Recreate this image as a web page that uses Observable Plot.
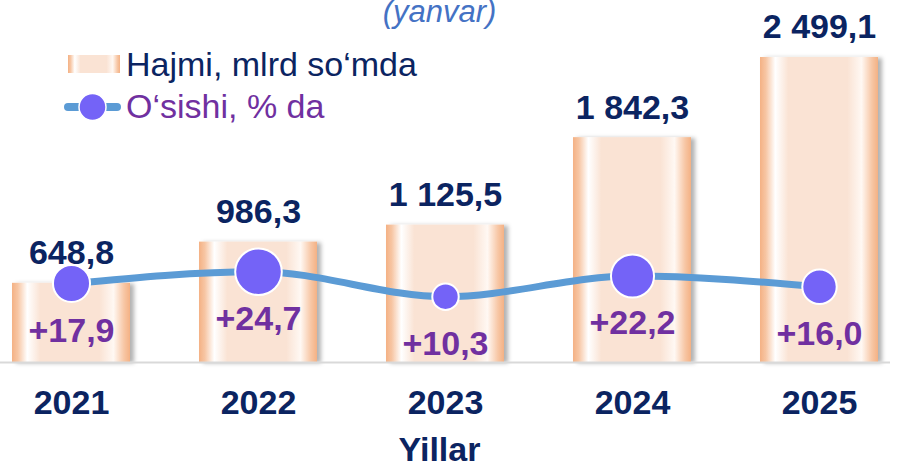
<!DOCTYPE html>
<html><head><meta charset="utf-8">
<script src="https://cdn.jsdelivr.net/npm/d3@7"></script>
<script src="https://cdn.jsdelivr.net/npm/@observablehq/plot@0.6"></script>
<style>body{margin:0;background:#fff;} #chart svg{overflow:visible}</style>
</head><body><div id="chart"></div>
<script>
// ---- data ----
const years = ["2021", "2022", "2023", "2024", "2025"];
const volume = [648.8, 986.3, 1125.5, 1842.3, 2499.1];   // mlrd so'm
const growth = [17.9, 24.7, 10.3, 22.2, 16.0];           // %
const titleText = "(yanvar)";
const legendVolume = "Hajmi, mlrd so‘mda";
const legendGrowth = "O‘sishi, % da";
const axisLabel = "Yillar";

const data = years.map((year, i) => ({year, volume: volume[i], growth: growth[i]}));

const locale = d3.formatLocale({decimal: ",", thousands: "\u00a0", grouping: [3]});
const fmtVol = locale.format(",.1f");
const fmtGr = locale.format("+.1f");

const NAVY = "#0b2461", PURPLE = "#7030a0", LINE = "#5b9bd5", DOT = "#7463f7";
const FONT = "'Liberation Sans', Arial, sans-serif";
// secondary (growth) axis mapped onto the primary y scale
const G_BASE = 393, G_K = 14.2;
const gy = d => G_BASE + G_K * d.growth;

function defsMark() {
  const d = document.createElementNS("http://www.w3.org/2000/svg", "defs");
  d.innerHTML = `
  <linearGradient id="barGrad" x1="0" x2="1" y1="0" y2="0">
    <stop offset="0" stop-color="#f4b184"/>
    <stop offset="0.05" stop-color="#f7c6a4"/>
    <stop offset="0.13" stop-color="#ffffff"/>
    <stop offset="0.24" stop-color="#fae3d4"/>
    <stop offset="0.74" stop-color="#fae3d4"/>
    <stop offset="0.86" stop-color="#fff8f3"/>
    <stop offset="0.95" stop-color="#f7c6a4"/>
    <stop offset="1" stop-color="#f4b184"/>
  </linearGradient>
  <filter id="shadow" x="-10%" y="-10%" width="130%" height="125%">
    <feDropShadow dx="4" dy="1" stdDeviation="2" flood-color="#000" flood-opacity="0.3"/>
  </filter>`;
  return d;
}

const chart = Plot.plot({
  width: 906, height: 464,
  marginTop: 0, marginBottom: 102, marginLeft: 0, marginRight: 16,
  style: {fontFamily: FONT, overflow: "visible", background: "#fff"},
  x: {type: "band", domain: years, paddingInner: 0.367, paddingOuter: 0.053},
  y: {domain: [0, 2966], axis: null},
  r: {type: "linear", domain: [0, 25], range: [6, 23.5]},
  marks: [
    defsMark,
    Plot.barY(data, {x: "year", y: "volume", fill: "url(#barGrad)"}),
    Plot.ruleY([0], {stroke: "#d9d9d9", strokeWidth: 2}),
    Plot.line(data, {x: "year", y: gy, curve: "monotone-x", stroke: LINE, strokeWidth: 7}),
    Plot.dot(data, {x: "year", y: gy, r: "growth", fill: DOT, stroke: "white", strokeWidth: 2}),
    Plot.text(data, {x: "year", y: "volume", text: d => fmtVol(d.volume), dy: -19, lineAnchor: "bottom",
      fill: NAVY, fontSize: 34, fontWeight: "bold"}),
    Plot.text(data, {x: "year", y: gy, text: d => fmtGr(d.growth), dy: 58, lineAnchor: "bottom",
      fill: PURPLE, fontSize: 34, fontWeight: "bold"}),
    Plot.axisX({tickSize: 0, tickPadding: 27, fontSize: 34, fontWeight: "bold", fill: NAVY, label: null}),
    Plot.text([axisLabel], {frameAnchor: "bottom", dx: -6, dy: 98, lineAnchor: "bottom",
      fill: NAVY, fontSize: 34, fontWeight: "bold"}),
    Plot.text([titleText], {frameAnchor: "top", dx: -6, dy: 21, lineAnchor: "bottom",
      fill: "#4472c4", fontSize: 31, fontStyle: "italic"})
  ]
});

document.getElementById("chart").appendChild(chart);

const svg = d3.select(chart);
svg.selectAll('g[aria-label="bar"] rect').attr("filter", "url(#shadow)");

// legend
const lg = svg.append("g").attr("aria-label", "legend").attr("font-family", FONT).attr("text-anchor", "start");
lg.append("rect").attr("x", 68).attr("y", 55).attr("width", 52).attr("height", 18).attr("fill", "url(#barGrad)");
lg.append("text").attr("x", 126).attr("y", 76).attr("fill", NAVY).attr("font-size", 34).text(legendVolume);
lg.append("line").attr("x1", 68).attr("x2", 117).attr("y1", 107).attr("y2", 107)
  .attr("stroke", LINE).attr("stroke-width", 8).attr("stroke-linecap", "round");
lg.append("circle").attr("cx", 92.5).attr("cy", 107).attr("r", 13.5).attr("fill", DOT)
  .attr("stroke", "white").attr("stroke-width", 1.5);
lg.append("text").attr("x", 126).attr("y", 118).attr("fill", PURPLE).attr("font-size", 34).text(legendGrowth);
</script></body></html>
